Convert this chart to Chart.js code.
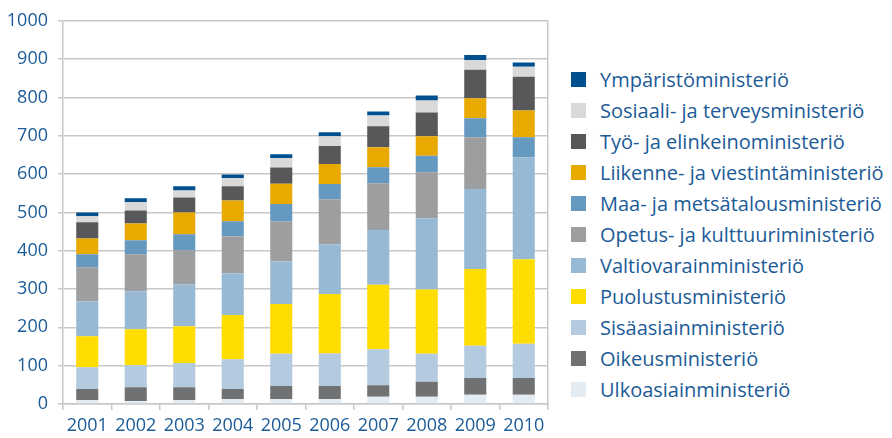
<!DOCTYPE html>
<html>
<head>
<meta charset="utf-8">
<title>Ministeriöt 2001-2010</title>
<script src="https://cdn.jsdelivr.net/npm/chart.js@4"></script>
<style>
  body { margin: 0; background: #fff; }
  #page { position: relative; width: 892px; height: 438px; }
  #wrap { position: absolute; left: 0; top: 0; width: 560px; height: 438px; }
  #legend { position: absolute; left: 571px; top: 64px; margin: 0; padding: 0; list-style: none;
            font-family: 'Open Sans', sans-serif; font-size: 20px; color: #1b5b97; }
  #legend li { height: 31px; display: flex; align-items: center; white-space: nowrap; }
  #legend span.box { display: inline-block; width: 15px; height: 15px; margin-right: 14px; }
</style>
</head>
<body>
<div id="page">
  <div id="wrap"><canvas id="myCanvas"></canvas></div>
  <ul id="legend"></ul>
</div>
<script>
var years = ["2001", "2002", "2003", "2004", "2005", "2006", "2007", "2008", "2009", "2010"];

// bottom of stack first
var ulkoasia     = [10, 8, 10, 13, 13, 13, 19, 19, 24, 24];
var oikeus       = [29, 36, 34, 26, 34, 34, 30, 39, 44, 44];
var sisaasia     = [57, 57, 63, 78, 84, 85, 94, 73, 84, 89];
var puolustus    = [81, 94, 96, 115, 130, 155, 168, 168, 200, 221];
var valtiovarain = [91, 99, 109, 109, 111, 130, 143, 186, 209, 266];
var opetus       = [89, 97, 89, 96, 104, 117, 122, 120, 135, 0];
var maa          = [34, 36, 42, 40, 46, 40, 42, 43, 50, 52];
var liikenne     = [41, 44, 57, 54, 53, 52, 52, 51, 52, 70];
var tyo          = [42, 34, 39, 37, 42, 47, 55, 62, 74, 88];
var sosiaali     = [16, 22, 18, 21, 24, 26, 28, 31, 26, 26];
var ymparisto    = [10, 10, 11, 10, 11, 10, 10, 13, 13, 11];

var yTicks = [0, 100, 200, 300, 400, 500, 600, 700, 800, 900, 1000];

var textBlue = "#1b5b97";
var gridGray = "#c8c8c8";

function ds(label, data, color) {
    return {
        label: label,
        data: data,
        backgroundColor: color,
        borderWidth: 0,
        barPercentage: 0.455,
        categoryPercentage: 1.0
    };
}

var datasets = [
    ds("Ulkoasiainministeriö", ulkoasia, "#e3ebf3"),
    ds("Oikeusministeriö", oikeus, "#707173"),
    ds("Sisäasiainministeriö", sisaasia, "#b3cadf"),
    ds("Puolustusministeriö", puolustus, "#ffdd00"),
    ds("Valtiovarainministeriö", valtiovarain, "#98b9d4"),
    ds("Opetus- ja kulttuuriministeriö", opetus, "#9d9ea0"),
    ds("Maa- ja metsätalousministeriö", maa, "#6699c0"),
    ds("Liikenne- ja viestintäministeriö", liikenne, "#e8aa00"),
    ds("Työ- ja elinkeinoministeriö", tyo, "#58585a"),
    ds("Sosiaali- ja terveysministeriö", sosiaali, "#d9d9da"),
    ds("Ympäristöministeriö", ymparisto, "#00508f")
];

Chart.defaults.font.family = "'Open Sans', sans-serif";
Chart.defaults.font.size = 18;
Chart.defaults.color = textBlue;

let myChart = document.getElementById("myCanvas").getContext('2d');

let massPopChart = new Chart(myChart, {
    type: 'bar',
    data: {
        labels: years,
        datasets: datasets
    },
    options: {
        responsive: true,
        maintainAspectRatio: false,
        animation: false,
        layout: { padding: { top: 10, left: 0, right: 0, bottom: 0 } },
        plugins: {
            tooltip: { enabled: false },
            legend: { display: false }
        },
        scales: {
            x: {
                stacked: true,
                grid: {
                    display: true,
                    drawOnChartArea: false,
                    offset: true,
                    tickLength: 6,
                    color: gridGray,
                    lineWidth: 1.5
                },
                border: { color: gridGray, width: 1.5 },
                ticks: { padding: 5, color: textBlue },
                afterFit: function (s) { s.height = 34; }
            },
            y: {
                stacked: true,
                min: 0,
                max: 1000,
                afterBuildTicks: function (s) {
                    s.ticks = yTicks.map(function (v) { return { value: v }; });
                },
                grid: { color: gridGray, lineWidth: 1.5, tickLength: 5 },
                border: { color: gridGray, width: 1.5 },
                ticks: {
                    padding: 10,
                    color: textBlue,
                    callback: function (v) { return String(v); }
                },
                afterFit: function (s) { s.width = 63; }
            },
            y2: {
                type: 'linear',
                position: 'right',
                min: 0,
                max: 1000,
                grid: { display: false },
                ticks: { display: false },
                border: { display: true, color: gridGray, width: 1.5 },
                afterFit: function (s) { s.width = 12; }
            }
        }
    }
});

// legend, top item = last dataset
var ul = document.getElementById("legend");
for (var i = datasets.length - 1; i >= 0; i--) {
    var li = document.createElement("li");
    var box = document.createElement("span");
    box.className = "box";
    box.style.background = datasets[i].backgroundColor;
    li.appendChild(box);
    li.appendChild(document.createTextNode(datasets[i].label));
    ul.appendChild(li);
}
</script>
</body>
</html>
